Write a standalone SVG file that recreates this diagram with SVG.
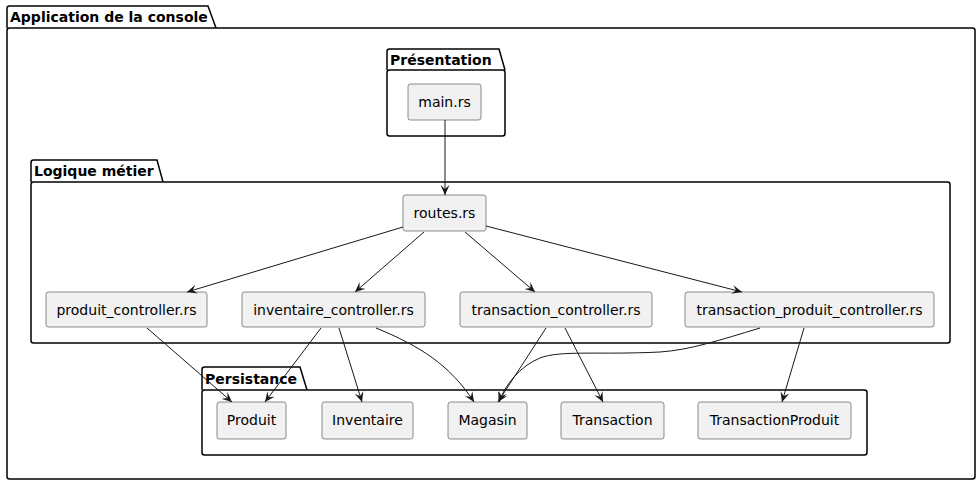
<svg xmlns="http://www.w3.org/2000/svg" width="980" height="485" viewBox="0 0 980 485">
<style>
.pkg{fill:none;stroke:#000;stroke-width:1.5}
.ptitle{font-family:"DejaVu Sans",sans-serif;font-size:14px;font-weight:bold;fill:#000}
.node rect{fill:#F1F1F1;stroke:#181818;stroke-width:0.5}
.node text{font-family:"DejaVu Sans",sans-serif;font-size:14px;fill:#000;text-anchor:middle}
.edge{fill:none;stroke:#181818;stroke-width:1;marker-end:url(#arr)}
</style>
<defs>
<marker id="arr" viewBox="0 0 10 10" refX="10" refY="5" markerWidth="10" markerHeight="10" markerUnits="userSpaceOnUse" orient="auto">
<path d="M0,0.5 L10,5 L0,9.5 L4,5 Z" fill="#181818"/>
</marker>
</defs>
<rect width="980" height="485" fill="#fff"/>
<g id="pkg-app">
<path class="pkg" d="M7,28 L7,8.5 Q7,6 9.5,6 L208,6 L216,28"/>
<rect class="pkg" x="7" y="28" width="968" height="451" rx="2.5"/>
<text class="ptitle" x="10" y="22">Application de la console</text>
</g>
<g id="pkg-presentation">
<path class="pkg" d="M387,70 L387,51.5 Q387,49 389.5,49 L499,49 L505,70"/>
<rect class="pkg" x="387" y="70" width="118" height="66" rx="2.5"/>
<text class="ptitle" x="390" y="65">Présentation</text>
</g>
<g id="pkg-logique">
<path class="pkg" d="M31,182 L31,162.5 Q31,160 33.5,160 L157,160 L163,182"/>
<rect class="pkg" x="31" y="182" width="919" height="161" rx="2.5"/>
<text class="ptitle" x="34" y="176">Logique métier</text>
</g>
<g id="pkg-persistance">
<path class="pkg" d="M202,390 L202,369.5 Q202,367 204.5,367 L300,367 L307,390"/>
<rect class="pkg" x="202" y="390" width="665" height="65" rx="2.5"/>
<text class="ptitle" x="205" y="384">Persistance</text>
</g>
<g id="main" class="node"><rect x="408" y="84" width="73" height="36" rx="2.5"/><text x="444.5" y="107">main.rs</text></g>
<g id="routes" class="node"><rect x="403" y="195" width="83" height="36" rx="2.5"/><text x="444.5" y="218">routes.rs</text></g>
<g id="produit_controller" class="node"><rect x="46" y="292" width="161" height="35" rx="2.5"/><text x="126.5" y="315">produit_controller.rs</text></g>
<g id="inventaire_controller" class="node"><rect x="242" y="292" width="183" height="35" rx="2.5"/><text x="333.5" y="315">inventaire_controller.rs</text></g>
<g id="transaction_controller" class="node"><rect x="460" y="292" width="192" height="35" rx="2.5"/><text x="556" y="315">transaction_controller.rs</text></g>
<g id="transaction_produit_controller" class="node"><rect x="685" y="292" width="249" height="35" rx="2.5"/><text x="809.5" y="315">transaction_produit_controller.rs</text></g>
<g id="Produit" class="node"><rect x="217" y="402" width="69" height="37" rx="2.5"/><text x="251.5" y="425">Produit</text></g>
<g id="Inventaire" class="node"><rect x="322" y="402" width="91" height="37" rx="2.5"/><text x="367.5" y="425">Inventaire</text></g>
<g id="Magasin" class="node"><rect x="448" y="402" width="79" height="37" rx="2.5"/><text x="487.5" y="425">Magasin</text></g>
<g id="Transaction" class="node"><rect x="561" y="402" width="103" height="37" rx="2.5"/><text x="612.5" y="425">Transaction</text></g>
<g id="TransactionProduit" class="node"><rect x="698" y="402" width="153" height="37" rx="2.5"/><text x="774.5" y="425">TransactionProduit</text></g>
<g id="connectors">
<path class="edge" d="M445,120 L445,195"/>
<path class="edge" d="M403,227 L187,292"/>
<path class="edge" d="M424,232 L355,292"/>
<path class="edge" d="M465,232 L535,292"/>
<path class="edge" d="M486,226 L742,292"/>
<path class="edge" d="M147,328 L232,402"/>
<path class="edge" d="M321,328 L265,402"/>
<path class="edge" d="M339,328 L362,402"/>
<path class="edge" d="M376,328 C420,346 450,365 474,402"/>
<path class="edge" d="M546,328 L498,402"/>
<path class="edge" d="M565,328 L603,402"/>
<path class="edge" d="M760,328 C720,340 690,350 660,352 C600,355 560,350 540,358 C520,366 505,385 499,402"/>
<path class="edge" d="M804,328 L782,402"/>
</g>
</svg>
